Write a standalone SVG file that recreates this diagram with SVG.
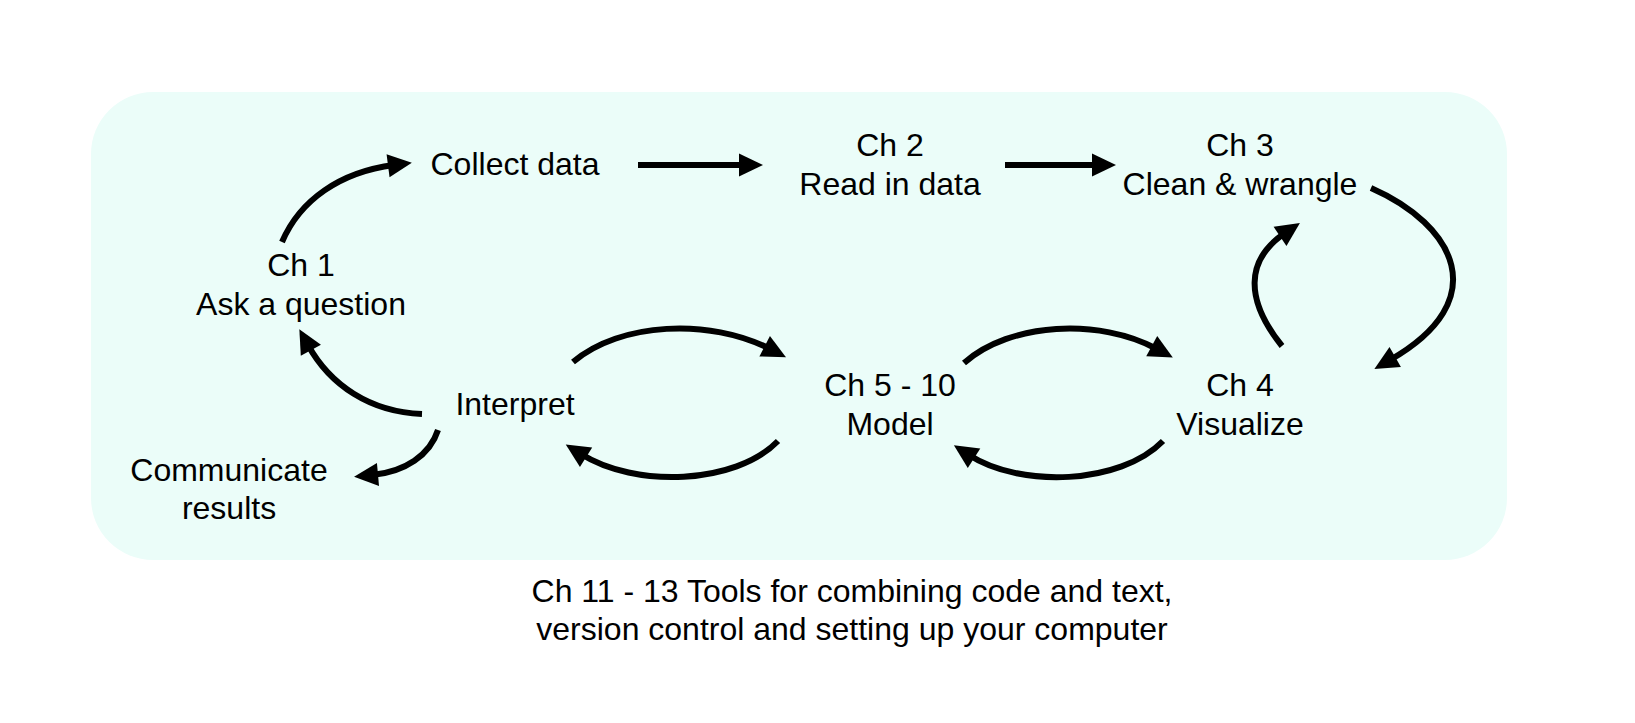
<svg xmlns="http://www.w3.org/2000/svg" width="1635" height="723" viewBox="0 0 1635 723">
<style>
  text { font-family: "Liberation Sans", Arial, sans-serif; font-size: 32px; fill: #000; text-anchor: middle; }
  .conn path { fill: none; stroke: #000; stroke-width: 6; marker-end: url(#ah); }
</style>
<defs>
  <marker id="ah" markerUnits="userSpaceOnUse" markerWidth="26" markerHeight="24" refX="6" refY="11.5" orient="auto" overflow="visible">
    <path d="M0,0 L24,11.5 L0,23 Z" fill="#000"/>
  </marker>
</defs>
<rect width="1635" height="723" fill="#ffffff"/>
<rect id="panel" x="91" y="92" width="1416" height="468" rx="62" ry="62" fill="#ebfdf9"/>
<g class="conn" id="connectors">
  <path d="M282,242 C300,200 340,172 394,165"/>
  <path d="M638,165 L745,165"/>
  <path d="M1005,165 L1098,165"/>
  <path d="M1371,188 C1455,225 1495,300 1390,360"/>
  <path d="M1282,346 C1245,300 1245,260 1285,233"/>
  <path d="M964,363 C1010,322 1100,318 1157,349"/>
  <path d="M1163,441 C1120,485 1020,488 969,455"/>
  <path d="M573,362 C620,322 710,318 770,349"/>
  <path d="M778,441 C735,485 635,488 581,454"/>
  <path d="M422,414 C370,412 330,385 308,345"/>
  <path d="M438,430 C430,455 405,472 372,475"/>
</g>
<g id="collect"><text x="515" y="175">Collect data</text></g>
<g id="ch2"><text x="890" y="156">Ch 2</text><text x="890" y="195">Read in data</text></g>
<g id="ch3"><text x="1240" y="156">Ch 3</text><text x="1240" y="195">Clean &amp; wrangle</text></g>
<g id="ch1"><text x="301" y="276">Ch 1</text><text x="301" y="315">Ask a question</text></g>
<g id="interpret"><text x="515" y="415">Interpret</text></g>
<g id="communicate"><text x="229" y="481">Communicate</text><text x="229" y="519">results</text></g>
<g id="model"><text x="890" y="396">Ch 5 - 10</text><text x="890" y="435">Model</text></g>
<g id="ch4"><text x="1240" y="396">Ch 4</text><text x="1240" y="435">Visualize</text></g>
<g id="tools"><text x="852" y="602">Ch 11 - 13 Tools for combining code and text,</text><text x="852" y="640">version control and setting up your computer</text></g>
</svg>
